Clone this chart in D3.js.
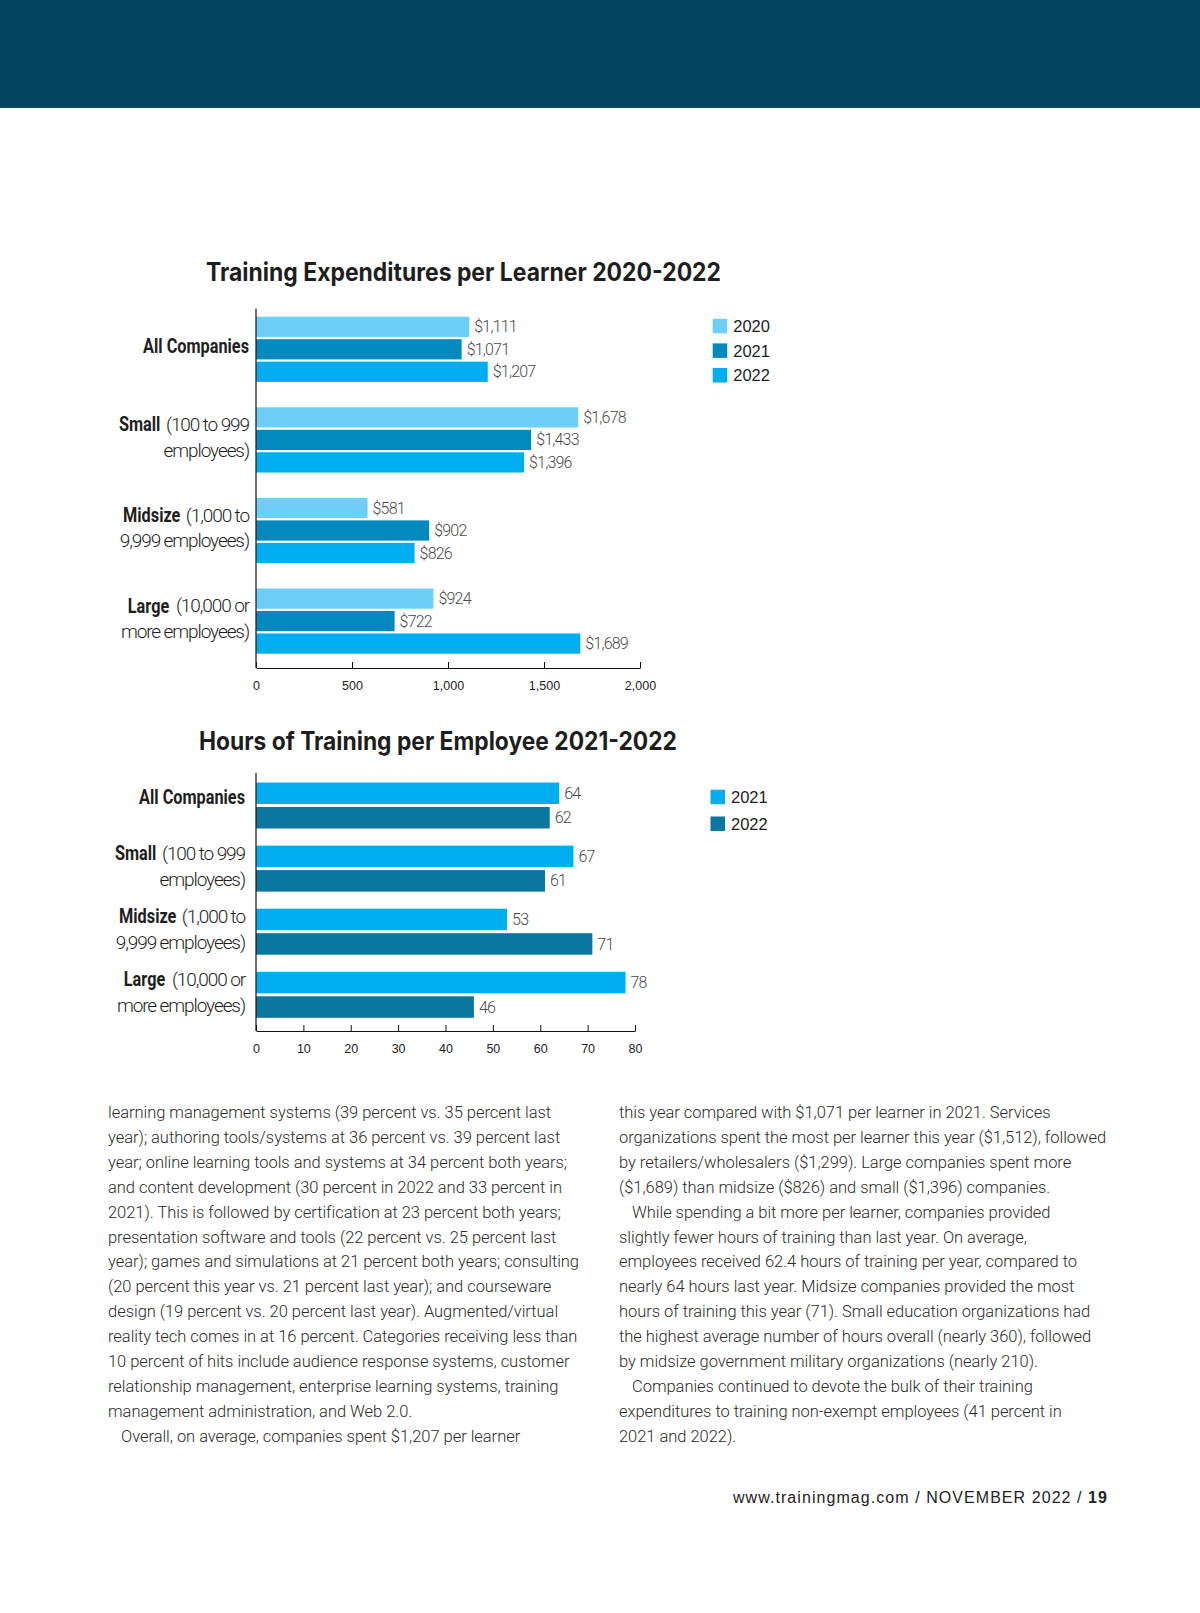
<!DOCTYPE html>
<html>
<head>
<meta charset="utf-8">
<script src="https://cdn.jsdelivr.net/npm/d3@7"></script>
<style>
  body { margin: 0; background: #fff; }
  svg { display: block; }
  .light { font-family: "Roboto", "Liberation Sans", sans-serif; font-weight: 300; }
  .cond { font-family: "Roboto", "Liberation Sans", sans-serif; font-weight: 700; }
  .tick text { font-family: "Liberation Sans", Arial, sans-serif; font-size: 12.5px; fill: #222; }
</style>
</head>
<body>
<div class="page"></div>
<script>
// data chart 1 - udgifter pr. learner
const categories = ["All Companies", "Small", "Midsize", "Large"];
const spendYears = ["2020", "2021", "2022"];
const spend2020 = [1111, 1678, 581, 924];
const spend2021 = [1071, 1433, 902, 722];
const spend2022 = [1207, 1396, 826, 1689];
const spendTicks = [0, 500, 1000, 1500, 2000];

// data chart 2 - timer pr. medarbejder
const hourYears = ["2021", "2022"];
const hours2021 = [64, 67, 53, 78];
const hours2022 = [62, 61, 71, 46];
const hourTicks = [0, 10, 20, 30, 40, 50, 60, 70, 80];

// kategori labels (fed del + tynd del, evt. to linjer)
const catLabels = [
  [["All Companies", ""]],
  [["Small", "(100 to 999"], ["", "employees)"]],
  [["Midsize", "(1,000 to"], ["", "9,999 employees)"]],
  [["Large", "(10,000 or"], ["", "more employees)"]]
];

// brødtekst
const leftLines = [
  "learning management systems (39 percent vs. 35 percent last",
  "year); authoring tools/systems at 36 percent vs. 39 percent last",
  "year; online learning tools and systems at 34 percent both years;",
  "and content development (30 percent in 2022 and 33 percent in",
  "2021). This is followed by certification at 23 percent both years;",
  "presentation software and tools (22 percent vs. 25 percent last",
  "year); games and simulations at 21 percent both years; consulting",
  "(20 percent this year vs. 21 percent last year); and courseware",
  "design (19 percent vs. 20 percent last year). Augmented/virtual",
  "reality tech comes in at 16 percent. Categories receiving less than",
  "10 percent of hits include audience response systems, customer",
  "relationship management, enterprise learning systems, training",
  "management administration, and Web 2.0.",
  ">Overall, on average, companies spent $1,207 per learner"
];
const rightLines = [
  "this year compared with $1,071 per learner in 2021. Services",
  "organizations spent the most per learner this year ($1,512), followed",
  "by retailers/wholesalers ($1,299). Large companies spent more",
  "($1,689) than midsize ($826) and small ($1,396) companies.",
  ">While spending a bit more per learner, companies provided",
  "slightly fewer hours of training than last year. On average,",
  "employees received 62.4 hours of training per year, compared to",
  "nearly 64 hours last year. Midsize companies provided the most",
  "hours of training this year (71). Small education organizations had",
  "the highest average number of hours overall (nearly 360), followed",
  "by midsize government military organizations (nearly 210).",
  ">Companies continued to devote the bulk of their training",
  "expenditures to training non-exempt employees (41 percent in",
  "2021 and 2022)."
];

const W = 1200, H = 1613;
const svg = d3.select(".page").append("svg")
  .attr("width", W)
  .attr("height", H);

// mørkeblå bånd i toppen
svg.append("rect")
  .attr("x", 0).attr("y", 0)
  .attr("width", W).attr("height", 108)
  .attr("fill", "#03445f");

// måler hvor bred en tekst bliver (bruges til at "kondensere" fed tekst)
function measure(txt, cls, size, ls) {
  const t = svg.append("text").attr("class", cls)
    .style("font-size", size + "px")
    .style("letter-spacing", (ls || 0) + "px")
    .text(txt);
  const w = t.node().getComputedTextLength();
  t.remove();
  return w;
}
// "All Companies" er ca. 106px bred i originalen
const condFactor = 106 / measure("All Companies", "cond", 20);

// generel funktion der tegner et grupperet barchart
function drawChart(opt) {
  const g = svg.append("g");

  const x = d3.scaleLinear().domain(opt.domain).range(opt.xRange);
  const y = d3.scaleBand().domain(categories).range(opt.yRange).paddingInner(opt.groupPad).paddingOuter(0);
  const yInner = d3.scaleBand().domain(opt.years).range([0, y.bandwidth()]).paddingInner(opt.barPad);
  const color = d3.scaleOrdinal().domain(opt.years).range(opt.colors);

  // titel
  g.append("text")
    .attr("x", opt.titleX)
    .attr("y", opt.titleY)
    .attr("textLength", opt.titleW)
    .attr("lengthAdjust", "spacingAndGlyphs")
    .style("font-family", "Inter, 'Liberation Sans', sans-serif")
    .style("font-weight", 700)
    .style("font-size", "25px")
    .style("fill", "#1e1e1e")
    .text(opt.title);

  // rækker af data pr. kategori
  const rows = categories.map((c, i) => ({
    cat: c,
    values: opt.years.map((yr, j) => ({ year: yr, value: opt.series[j][i] }))
  }));

  const groups = g.selectAll("g.group")
    .data(rows)
    .join("g")
    .attr("class", "group")
    .attr("transform", d => "translate(0," + y(d.cat) + ")");

  groups.selectAll("rect")
    .data(d => d.values)
    .join("rect")
    .attr("x", x(0))
    .attr("y", d => yInner(d.year))
    .attr("width", d => x(d.value) - x(0))
    .attr("height", yInner.bandwidth())
    .attr("fill", d => color(d.year));

  // værdi labels
  groups.selectAll("text.label")
    .data(d => d.values)
    .join("text")
    .attr("class", "label light")
    .attr("x", d => x(d.value) + 5)
    .attr("y", d => yInner(d.year) + yInner.bandwidth() / 2)
    .attr("dy", "0.35em")
    .style("font-size", "16px")
    .style("letter-spacing", "-0.8px")
    .style("fill", "#4a4a4a")
    .text(d => opt.fmt(d.value));

  // x-akse med ticks opad
  const xAxis = g.append("g")
    .attr("transform", "translate(0," + opt.axisBottom + ")")
    .call(d3.axisBottom(x).tickValues(opt.ticks).tickFormat(opt.tickFmt)
      .tickSizeInner(-6).tickSizeOuter(0).tickPadding(13.5));
  xAxis.select(".domain").attr("stroke", "#111");
  xAxis.selectAll(".tick line").attr("stroke", "#111");

  // y-akse linje
  g.append("line")
    .attr("x1", x(0)).attr("x2", x(0))
    .attr("y1", opt.axisTop).attr("y2", opt.axisBottom)
    .attr("stroke", "#111")
    .attr("stroke-width", 1.2);

  // kategori labels til venstre - tynd del højrestillet, fed del foran
  rows.forEach((d, i) => {
    const lines = catLabels[i];
    const c = y(d.cat) + y.bandwidth() / 2;
    lines.forEach((ln, k) => {
      const cy = lines.length === 1 ? c + opt.singleOff : c + opt.lineOff[k];
      let right = opt.labelX;
      if (ln[1]) {
        const lt = g.append("text")
          .attr("class", "light")
          .attr("x", right)
          .attr("y", cy)
          .attr("dy", "0.35em")
          .attr("text-anchor", "end")
          .style("font-size", "19px")
          .style("letter-spacing", "-1.1px")
          .style("fill", "#1e1e1e")
          .text(ln[1]);
        right -= lt.node().getBBox().width + 5;
      }
      if (ln[0]) {
        // fed tekst presses sammen vandret med en scale-transform
        g.append("g")
          .attr("transform", "translate(" + right + "," + cy + ") scale(" + condFactor + ",1)")
          .append("text")
          .attr("class", "cond")
          .attr("x", 0)
          .attr("y", 0)
          .attr("dy", "0.35em")
          .attr("text-anchor", "end")
          .style("font-size", "20px")
          .style("fill", "#1e1e1e")
          .text(ln[0]);
      }
    });
  });

  // legende
  const leg = g.selectAll("g.legend")
    .data(opt.years)
    .join("g")
    .attr("class", "legend")
    .attr("transform", (d, i) => "translate(" + opt.legX + "," + (opt.legY + i * opt.legStep) + ")");
  leg.append("rect")
    .attr("width", 14.5).attr("height", 14.5)
    .attr("fill", d => color(d));
  leg.append("text")
    .attr("x", 20.5)
    .attr("y", 7.5)
    .attr("dy", "0.36em")
    .style("font-family", "'Liberation Sans', Arial, sans-serif")
    .style("font-size", "16.5px")
    .style("fill", "#1e1e1e")
    .text(d => d);
}

drawChart({
  title: "Training Expenditures per Learner 2020-2022",
  titleX: 206, titleY: 281, titleW: 515,
  years: spendYears,
  series: [spend2020, spend2021, spend2022],
  colors: ["#6dcff6", "#0489bf", "#00aeef"],
  domain: [0, 2000],
  xRange: [256, 640],
  yRange: [316.7, 653.7],
  groupPad: 0.28,
  barPad: 0.1,
  axisTop: 308.5,
  axisBottom: 668,
  ticks: spendTicks,
  tickFmt: d3.format(","),
  fmt: d3.format("$,"),
  labelX: 249,
  singleOff: -3.5,
  lineOff: [-15.5, 10],
  legX: 712.7, legY: 318.8, legStep: 24.6
});

drawChart({
  title: "Hours of Training per Employee 2021-2022",
  titleX: 199, titleY: 750, titleW: 478,
  years: hourYears,
  series: [hours2021, hours2022],
  colors: ["#00aeef", "#0b76a0"],
  domain: [0, 80],
  xRange: [256, 635],
  yRange: [782.5, 1017.8],
  groupPad: 0.271,
  barPad: 0.122,
  axisTop: 773,
  axisBottom: 1031,
  ticks: hourTicks,
  tickFmt: d3.format("d"),
  fmt: d3.format("d"),
  labelX: 245,
  singleOff: -8.5,
  lineOff: [-15.5, 11],
  legX: 710.5, legY: 789.7, legStep: 26.8
});

// brødtekst i to spalter - letter-spacing kalibreres ud fra en kendt linje
function drawColumn(lines, x0, y0, ls) {
  const col = svg.append("g").attr("class", "light");
  col.selectAll("text")
    .data(lines)
    .join("text")
    .attr("x", d => d[0] === ">" ? x0 + 13 : x0)
    .attr("y", (d, i) => y0 + i * 24.9)
    .style("font-size", "16.5px")
    .style("letter-spacing", ls + "px")
    .style("fill", "#2b2b2b")
    .text(d => d[0] === ">" ? d.slice(1) : d);
}

// mål en referencelinje (spalte-bredde ca. 473px)
const natural = measure(leftLines[6], "light", 16.5);
const ls = (471 - natural) / leftLines[6].length;

drawColumn(leftLines, 108, 1118, ls);
drawColumn(rightLines, 619, 1118, ls);

// footer - bredde ca. 375px fra x=733 til x=1108
const footText = "www.trainingmag.com / NOVEMBER 2022 / ";
const footNat = svg.append("text")
  .style("font-family", "'Liberation Sans', Arial, sans-serif")
  .style("font-size", "16px");
footNat.append("tspan").text(footText);
footNat.append("tspan").style("font-weight", 700).text("19");
const footW = footNat.node().getComputedTextLength();
footNat.remove();
const footLs = (375 - footW) / (footText.length + 2);

const foot = svg.append("text")
  .attr("x", 1108)
  .attr("y", 1503)
  .attr("text-anchor", "end")
  .style("font-family", "'Liberation Sans', Arial, sans-serif")
  .style("font-size", "16px")
  .style("letter-spacing", footLs + "px")
  .style("fill", "#222");
foot.append("tspan").text(footText);
foot.append("tspan").style("font-weight", 700).text("19");
</script>
</body>
</html>
